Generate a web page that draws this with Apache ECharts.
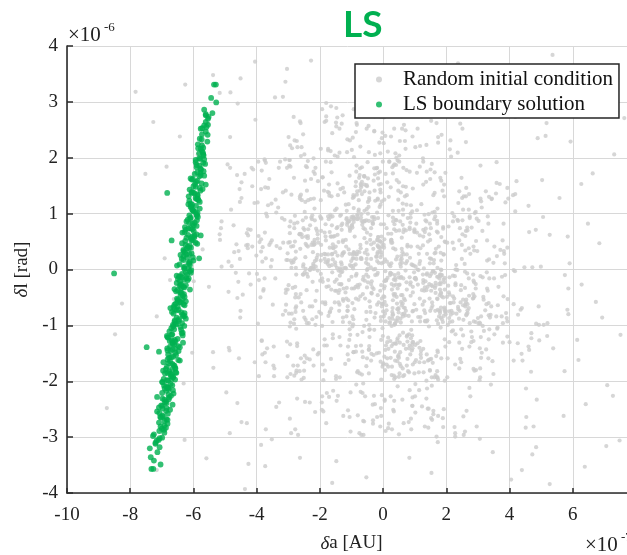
<!DOCTYPE html>
<html>
<head>
<meta charset="utf-8">
<script src="https://cdn.jsdelivr.net/npm/echarts@6/dist/echarts.min.js"></script>
<style>
html,body{margin:0;padding:0;background:#fff;}
#c{width:627px;height:555px;}
</style>
</head>
<body>
<div id="c"></div>
<script>
// Units: x in 0.01 x 10^-7 AU, y in 0.01 x 10^-6 rad (flat x,y pairs)
const grayXY = [
-17,43,138,-9,-271,84,53,-131,192,27,-349,-63,8,171,94,-41,-152,106,417,-3,
-74,-186,241,52,-108,-19,36,81,-203,-149,163,137,-1,-62,-428,38,293,-94,71,216,
147,-52,-39,4,-284,-172,62,118,-141,49,361,-106,-83,259,206,-29,-7,-92,-517,63,
3,39,-229,126,174,-197,-72,-48,296,91,-161,-5,49,-153,-373,147,116,61,628,-27,
-139,-74,51,193,-306,17,238,-71,-28,-108,84,72,-194,-238,383,28,-51,149,171,-182,
27,-26,-93,93,-461,-51,149,162,273,-138,-16,58,-207,26,63,-84,185,241,-62,-296,
-163,131,317,-49,-2,-174,-249,71,103,-16,-384,-127,151,74,39,208,-127,-53,506,94,
82,-141,-52,19,219,-93,-297,186,-138,-37,17,97,441,-163,-182,59,93,-229,-27,141,
-241,-8,171,82,-85,-206,29,48,-407,119,263,-82,-149,263,52,-118,329,16,-14,-59,
116,184,-193,-101,-31,37,184,-159,-263,64,41,-27,-551,-31,238,119,-82,-184,149,53,
-6,-262,352,41,-118,116,72,-74,-308,-42,197,173,-185,19,16,-122,438,-151,-59,86,
141,-31,-238,194,-94,-148,274,92,-19,15,-452,-86,102,-205,-171,152,59,37,-341,-16,
229,-116,-48,163,127,-19,-274,-181,193,131,-4,-61,-129,82,363,-64,-71,-219,-607,108,
71,249,-152,-38,306,-141,-41,53,-219,127,138,-93,19,193,-382,-152,181,-9,-97,-102,
-293,86,17,-142,152,19,-174,216,427,-81,-53,-173,92,104,-9,-38,-249,-86,248,164,
37,-97,-127,52,-329,-238,203,48,-73,141,262,-59,-197,-8,59,274,-13,-149,-471,31,
162,-193,-38,74,86,-27,-159,-116,308,186,-263,63,48,-71,-92,201,519,-119,-131,9,
-59,152,208,-41,-317,138,27,-189,-183,-59,74,116,393,-93,-26,-241,-197,92,137,-37,
251,63,-86,-137,-17,127,-393,-19,142,-163,-153,204,64,-16,-241,141,8,-93,174,237,
-116,-52,341,-206,-49,27,193,152,-282,-97,94,-31,-163,59,-538,-148,231,8,-19,182,
41,-133,-206,158,131,98,-63,-271,-352,52,216,-74,-8,138,-137,-193,286,41,-84,-8,
173,-148,-242,-37,51,204,-27,-86,396,127,-174,27,86,-152,-307,-63,127,71,-52,252,
-149,-191,262,131,-37,-42,-227,93,16,-174,152,-8,-416,182,82,-116,-93,31,338,-86,
-263,127,26,53,203,-193,-104,-117,-9,208,284,-52,-174,-19,63,149,-451,-74,141,-249,
93,8,-51,-159,-316,48,163,174,-138,-63,31,93,-249,206,241,-131,-19,-9,-641,-31,
197,-74,-171,137,52,-27,-293,-187,127,59,-16,163,352,-116,-86,-52,174,227,-38,-163,
-53,88,137,-231,-197,16,48,141,-374,-149,271,38,-127,-86,9,-19,-163,174,483,71,
127,152,-19,-63,-241,183,93,-141,-148,-38,308,127,-63,-204,-338,102,38,-16,-8,116,
-186,-136,249,19,-74,169,171,-52,-263,131,52,-186,-16,41,-419,-27,197,-138,86,84,
16,-284,-131,71,331,-38,-52,108,174,-97,-241,-159,74,178,-97,27,149,-74,-308,141,
14,-15,-192,165,235,89,-79,-32,-338,-246,126,43,38,-132,-279,50,128,-184,-419,71,
-169,39,93,-75,310,-158,-20,297,249,44,-159,-123,-7,81,164,-6,-228,162,508,-99,
286,-128,-3,48,-125,-34,121,117,6,-79,-382,14,280,286,-51,-32,182,30,-66,-147,
-9,38,244,-160,195,50,-458,-22,31,172,-153,-59,340,-81,-28,248,-211,17,145,-102,
184,-10,27,-101,-93,85,-221,10,155,-59,-364,146,22,-94,-189,-254,293,103,-81,96,
-44,128,181,-9,-275,-66,159,133,44,-61,-28,247,-356,48,123,-37,286,-178,-431,65,
227,-12,-101,90,91,-145,-64,85,-166,192,334,-60,-34,86,210,-45,-143,-226,64,182,
-13,39,336,-107,-126,2,49,-14,-212,73,172,-145,87,100,-466,-6,31,-55,-288,217,
148,-181,-252,9,20,-96,-128,29,325,140,-91,-71,253,-64,-36,278,-192,-59,503,160,
1,13,-30,-153,-205,48,182,-104,66,-52,-113,84,314,69,-251,-194,15,211,-160,-94,
-133,-5,72,70,136,157,-259,-59,-19,53,309,-121,-86,-11,173,281,293,-26,-411,179,
31,105,-211,-85,48,-7,-144,62,137,-199,-62,74,-295,-267,335,18,-85,175,127,-24,
-289,12,127,193,81,-83,-1,-119,349,12,-141,-59,26,53,-258,-197,193,-23,-84,262,
164,-33,-83,27,-295,-102,88,41,-197,216,493,-99,-37,-151,105,82,-309,-74,94,145,
-92,130,178,-16,-40,62,286,-20,-189,-198,62,80,334,-82,-253,242,11,-170,-167,98,
221,-48,-8,-165,113,28,23,6,-164,-70,-293,184,46,-209,-355,5,182,-23,-17,125,
-35,94,308,-12,-184,-181,11,74,250,128,-141,-2,-70,19,138,-152,-511,5,255,-296,
144,-162,-29,48,-295,49,130,-38,-19,-264,42,88,-310,197,156,-65,293,-34,-46,112,
84,75,-264,-182,133,-78,-67,183,116,-52,-371,20,19,9,-214,-56,-148,256,469,-123,
-146,3,148,-161,4,54,-232,-66,-48,121,133,-93,-60,-272,360,24,-291,41,27,-137,
24,-158,-170,6,260,-63,-15,58,181,-74,88,115,-320,92,-109,-162,82,292,-254,-9,
117,15,-36,-43,67,-189,-225,90,-136,0,411,133,5,-30,-254,88,120,-146,-65,-221,
-238,41,46,195,-119,-41,351,-16,-9,143,130,-57,-227,3,65,-275,-195,91,95,-130,
92,-118,161,17,-38,19,-232,-161,117,-93,-10,51,318,-54,-180,274,46,-123,-279,96,
-127,49,56,-173,251,88,-57,-52,72,148,-191,-22,-379,-38,18,130,211,-94,-691,20,
71,-82,-281,82,184,159,-4,-52,-135,-136,302,87,-47,-13,152,266,-224,97,75,-172,
-147,109,36,-99,-95,95,274,-96,-169,67,62,-177,-424,-7,166,30,35,-235,-247,159,
45,-71,-138,-121,378,52,-51,66,242,-74,-127,146,63,-191,-93,20,103,5,-599,-21,
-281,74,13,-159,166,-29,-4,235,-172,90,3,-34,329,52,-260,-159,156,-30,-73,181,
132,-32,-86,27,-294,-134,190,76,32,-133,-82,98,-180,-275,331,95,-25,-10,219,101,
-15,173,183,-41,87,93,-207,-2,115,-140,-489,14,-99,-34,188,141,-267,-50,92,-244,
-176,14,260,-66,-80,-182,26,48,100,-16,-384,177,41,18,-253,-74,123,-245,-44,124,
37,-10,-175,139,207,77,-44,-99,-120,-169,55,17,-202,-76,118,38,-360,162,61,-233,
113,-184,-58,30,0,-75,-220,44,93,238,-126,-56,302,-97,-60,167,-137,-11,232,0,
-70,93,228,-170,191,27,-44,-137,447,4,-172,-30,69,-69,-277,20,-93,110,114,-216,
192,-83,-68,19,-302,-155,115,10,-86,157,246,-37,72,11,-112,-152,38,-97,-284,42,
50,156,195,-36,-296,77,-7,-85,144,99,-69,-296,179,-46,-386,144,254,-90,-59,87,
-193,-16,36,188,-92,30,209,-87,-141,-42,13,156,323,-73,-9,50,148,-180,-216,88,
72,-142,-209,69,180,-78,-56,296,171,87,-53,-76,294,-180,-173,17,66,-79,-473,79,
190,73,-24,-78,-246,121,7,-3,-388,-50,138,175,-34,-32,176,41,-57,-227,235,-1,
-18,28,118,-128,-245,-90,45,23,-153,60,28,-174,371,35,-126,-262,49,-77,-257,124,
170,-193,-69,99,59,57,-249,-166,196,-76,-427,72,-40,-76,163,103,253,-54,-75,294,
57,-13,-282,17,-185,-125,16,64,127,-142,-374,66,39,-19,-232,0,-30,159,192,-18,
-117,41,35,-196,162,90,-43,-57,229,0,-33,-242,-195,26,305,-95,63,107,-238,-13,
23,-128,-162,79,43,-49,-207,63,-123,138,29,-88,-217,53,119,-152,-51,-1,590,11,
-157,38,34,-18,279,-130,-70,21,154,-208,-391,49,-93,-148,184,16,-275,-9,24,147,
61,-46,-106,168,-8,22,264,-80,1,-168,-147,74,111,-85,-337,42,34,-254,-242,43,
271,107,-53,-90,177,-74,-49,192,-106,-95,51,70,-427,61,183,-86,-6,-126,213,231,
-38,45,183,0,-207,-152,4,-49,333,82,-165,-160,29,-76,-6,273,171,-13,-220,7,
109,-132,-87,9,-112,-74,243,74,-70,147,23,-6,-396,-97,172,109,-231,-1,41,69,
28,-36,-281,-190,25,51,-151,8,165,-74,-63,277,221,-11,-25,123,389,-78,-144,25,
-105,69,53,-169,267,70,-78,-54,-149,-196,99,67,194,-68,-464,45,49,105,-298,-79,
69,131,-147,-18,-5,59,394,-53,109,41,-272,-132,12,14,-158,-217,65,-68,-207,55,
-100,-13,43,160,225,-52,-54,12,6,-180,-100,94,393,39,-36,-21,-296,196,194,-71,
56,5,-286,-33,126,199,-64,-18,-168,-75,42,200,214,-81,-2,-105,170,68,-457,33,
168,-155,-20,23,57,-58,-213,5,157,-3,-26,170,-375,-16,135,73,-20,-150,280,75,
-68,87,172,-193,-252,74,46,-34,-115,105,87,-23,-166,94,328,-5,25,238,-210,-38,
-106,28,5,-58,-6,-197,294,51,93,-130,-116,90,288,-23,-60,167,197,-74,-99,78,
-296,196,40,-91,173,66,-87,-31,327,-62,-135,144,6,18,-235,-96,-111,-252,57,24,
27,-8,-197,124,54,10,-252,-9,125,-63,-78,104,189,-94,-414,41,-44,-108,237,87,
-182,27,49,-69,-250,-181,76,15,107,173,-378,-35,-4,-225,132,67,-72,44,247,-107,
38,-163,-258,63,60,12,-115,-33,45,-127,-108,86,267,-78,-17,31,391,-87,-191,165,
181,-12,-76,164,-153,-22,63,98,-256,58,5,-235,376,-13,-150,41,75,133,-278,-50,
-3,42,133,-92,241,140,-64,-44,120,-158,-95,2,-571,36,148,-12,-27,90,253,-118,
61,-80,-133,98,-87,149,289,-48,148,20,-45,-186,183,-43,-265,63,-81,-117,172,3,
-109,117,98,-5,276,28,-62,-13,54,-148,-162,27,-5,26,104,-162,-281,-89,2,44,
97,7,-220,-172,104,-18,-93,91,-113,-74,84,175,240,-88,-7,153,186,-89,-17,52,
-112,-66,33,186,-22,23,153,-69,-231,79,31,-80,-106,-107,66,72,263,-54,-143,133,
89,-108,165,95,-293,-95,-82,90,56,138,-132,-26,61,31,-299,-28,129,2,-67,-188,
-106,75,20,-87,166,-189,-25,1,271,-16,-96,20,-170,132,22,-10,-43,-121,262,69,
54,86,-126,29,63,-113,-261,-44,-57,72,115,-166,-49,1,153,-28,260,60,-65,-112,
109,0,-82,140,-124,31,4,-21,259,-33,-159,39,92,-135,-98,80,157,-167,-223,48,
-84,186,177,-26,-277,-76,64,67,-109,36,94,-170,163,29,-17,-46,274,95,-64,-157,
-151,31,10,-64,-59,105,190,-50,-216,15,75,-36,-139,-26,4,125,71,-2,-159,18,
30,-82,-245,1,180,-36,-83,134,45,-92,-101,6,88,-123,-223,2,-183,-62,77,-160,
139,28,-86,-147,-130,25,285,-9,-29,94,4,-156,184,-1,-79,91,-245,46,84,-136,
-42,-107,160,11,1,-48,-186,28,77,-129,-276,3,-133,-27,90,9,-67,157,126,-9,
267,-73,-52,48,102,-135,99,72,-105,8,-95,-98,29,183,-241,-96,177,-84,-4,122,
-115,92,65,-135,-289,-79,32,38,146,-26,-43,138,-132,79,50,-28,-84,19,271,-69,
39,-193,-175,10,-58,-20,197,49,-244,59,23,-7,181,164,-6,-28,-162,8,99,-186,
-228,3,48,125,134,-21,-17,-6,79,-182,-114,80,286,-51,-32,82,130,-166,-47,9,
38,-44,-160,95,50,-158,-222,31,172,-53,-59,140,-81,-28,148,11,-217,45,2,-84,
110,-27,-1,193,85,21,-110,-55,59,-64,-246,22,-94,-89,154,-193,3,81,-196,44,
-28,181,209,-75,-166,59,33,-44,-161,28,47,-156,-48,-23,137,86,-278,-31,65,27,
112,-1,-90,91,45,-164,-185,66,-92,-34,260,34,186,-10,-45,-143,26,64,-182,13,
39,36,-107,-126,202,-49,-14,12,173,-72,-45,87,100,-166,-6,31,55,-88,-217,48,
-181,52,9,-20,-96,128,229,-25,140,-91,-71,153,-164,-36,78,92,159,-3,-60,-101,
13,-130,-253,5,148,82,-4,-66,-152,13,84,-14,-69,151,194,-15,211,-60,-94,133,
105,-72,-70,-136,-157,59,59,19,-53,-9,221,86,11,-73,-181,193,26,11,-179,-31,
-5,11,185,-48,7,-144,-262,37,99,-62,-174,95,-67,135,118,-85,75,27,-224,-89,
-182,81,82,-184,259,-4,-52,35,-136,2,87,-47,-13,152,166,-24,-97,75,272,-47,
9,-136,-199,95,95,-74,-196,69,267,-62,-77,124,107,66,-30,-35,35,-47,-159,45,
-71,38,221,-78,-52,151,166,-42,-74,-27,146,63,91,-93,-120,3,205,-99,-21,181,
174,-13,-59,166,-129,-4,35,72,-290,3,34,-29,152,-160,-59,56,130,-73,-81,32,
32,86,-127,-94,34,-190,-276,32,-33,82,198,-80,-75,31,195,-125,10,-19,-101,15,
-173,-83,41,187,-93,7,102,-15,40,89,-214,-99,134,88,-41,-67,50,-192,-144,76,
214,-60,-66,80,182,-26,-48,100,-116,-84,77,41,-118,53,74,-23,-45,-144,224,37,
-10,175,139,-7,77,44,-199,-20,69,-55,-117,2,76,-118,-238,60,62,-61,-133,13,
184,58,-30,0,75,-120,-244,93,-38,-26,156,102,-97,-60,167,37,-11,32,0,-170,
-93,28,170,-91,-227,44,37,-147,-104,72,30,-69,-169,-77,20,193,210,-14,-16,92,
183,-68,-19,102,55,-15,-110,86,57,-46,-237,72,-11,112,152,-38,-97,-84,142,50,
56,-95,-136,96,-77,107,285,-44,99,69,-196,-79,46,-86,-144,154,-90,59,287,-93,
312,-149,-219,1,483,281,-193,-227,-312,89,24,-227,-275,-185,418,135,-367,95,174,-262,
-299,237,462,-144,-7,-248,385,11,-105,231,279,-111,-326,193,81,-273,-511,86,221,-109,
-453,19,159,-259,357,136,-270,-172,5,-233,-394,60,211,215,-194,-251,469,-114,-284,13,
152,-266,-304,182,-248,-5,53,230,413,-1,-260,203,359,192,-178,-136,264,-253,-371,191,
-340,125,229,-28,-496,-220,109,252,381,-48,-17,288,255,131,-406,-166,300,-87,-145,272,
273,-212,-414,149,2,226,-307,-36,139,-213,-282,164,326,-143,-45,210,586,-34,-260,134,
492,-66,-185,264,-345,-191,290,101,-12,227,365,-31,-278,-286,137,223,-448,156,247,-28,
-161,244,333,-159,266,75,-9,-281,-428,44,296,-281,-303,-193,154,189,-294,222,346,-164,
359,155,-210,21,-485,-293,101,-227,310,-84,-2,245,217,-111,-448,128,-381,40,159,-253,
-272,-231,422,158,50,-295,-360,44,-138,209,247,-166,-330,182,32,-251,586,-80,-214,182,
-479,6,117,221,334,-125,-248,103,28,-286,-399,-8,262,228,-106,-264,-481,107,223,-59,
144,-249,-397,120,258,10,-75,-293,439,-69,-271,219,-384,-128,150,179,-232,-238,343,126,
-346,-138,232,-79,489,235,-165,292,315,-14,-93,287,209,-130,-492,188,336,-16,-193,287,
259,-290,-454,144,-86,246,379,-96,169,-299,-244,185,307,-177,-96,236,-595,56,250,-142,
484,-97,-138,252,312,111,-272,-137,-46,257,386,-10,-215,-255,102,219,468,-183,-292,16,
-114,210,393,-120,-277,-69,69,230,472,4,-247,-237,344,127,-191,-170,228,-293,-370,100,
-332,111,237,-67,-460,297,102,-256,-326,38,93,-244,-220,175,400,-130,358,-84,-113,233,
-261,262,460,-138,18,-276,-302,17,155,-269,-220,199,-344,-177,7,239,575,-10,-237,124,
-444,-45,123,274,-353,118,241,-177,84,-216,-300,48,226,-282,-180,266,460,114,-276,-44,
192,-250,-367,-141,288,34,-99,214,-489,-40,215,202,307,-193,-187,141,-283,273,315,-101,
319,-110,225,95,-431,-275,-180,298,382,33,-32,-276,-290,134,494,-127,-386,32,132,-281,
-273,230,-456,-159,60,252,329,-34,-103,-290,272,135,-304,-129,66,259,-513,74,281,-121,
499,5,-103,-220,-393,-191,263,146,-27,274,342,-66,251,252,-178,-221,-438,171,245,-59,
-147,-235,335,130,266,-7,-24,277,462,67,-269,-296,-374,195,195,-199,236,209,-347,-172,
-375,197,-224,-66,452,-213,147,287,-302,-36,35,252,204,-159,-484,182,381,82,-171,-228,
244,261,413,-163,-29,-226,-386,54,169,262,-221,-143,310,122,-32,-270,520,-96,-216,171,
-401,25,189,-266,387,120,-275,-106,88,-267,-302,29,228,-299,-131,261,426,-132,-238,56,
190,-282,-395,193,-295,65,8,-289,-433,43,254,-263,-372,-166,107,106,-280,231,379,-131,
369,153,-223,-22,486,-233,-166,212,-352,17,89,-286,253,107,-488,-140,375,-84,-174,213,
-291,-293,418,104,-72,220,307,-97,-144,202,289,-181,362,-104,-26,205,527,62,-248,-154,
413,-62,-128,276,305,-198,-217,109,3,272,-317,-81,-263,265,143,-283,-486,-145,220,48,
-148,289,349,-187,298,33,-80,-261,435,-72,-258,219,393,146,-111,-138,276,-227,-364,115,
-643,238,571,-262,-716,-84,627,153,-483,317,472,-331,-537,-176,684,47,-371,-286,418,273,
-592,127,538,-141,-426,-348,606,304,-674,-19,709,-207,-309,336,451,-283,-752,171,386,353,
-461,-239,648,82,-553,261,527,-384,-405,372,593,229,-628,-305,751,-117,-342,308,439,-359,
-516,53,673,-58,-685,184,562,341,-448,-273,618,-162,-574,226,484,-318,-826,-61,347,-327,
-604,-149,731,206,-373,-352,517,262,-538,348,641,-241,-462,169,583,-72,-386,-314,406,317,
-727,264,558,128,-631,-204,706,-316,-484,237,536,384,-559,-338,663,172,-304,359,453,-264,
-662,-53,614,-126,-517,316,476,-281,-437,-393,584,59,-586,206,727,-226,-263,-337,514,239,
-848,-116,542,314,-453,121,638,-353,-626,331,693,-86,-404,268,463,306,-352,-304,574,-182,
-783,318,-874,-248,748,-306,763,271,-716,-359,-228,374,153,-364,-84,351,237,369,-161,-382,
83,-337,-317,309,306,-303,-17,338,173,-309,-451,342,-148,-343,405,-376,-53,-372,274,316
];
const greenXY = [
-693,-287,-612,143,-597,61,-686,-209,-611,-36,-609,118,-674,-251,-652,7,-578,173,-660,-94,-556,229,-648,-162,
-609,93,-682,-121,-611,-3,-593,196,-709,-274,-614,38,-663,-67,-561,152,-669,-188,-561,264,-666,-143,-637,19,
-628,-49,-586,127,-715,-228,-609,74,-699,-301,-582,208,-642,-12,-657,-177,-593,48,-653,-86,-605,161,-687,-236,
-627,31,-641,-103,-561,247,-694,-196,-643,-58,-580,109,-703,-265,-616,2,-590,183,-633,-131,-635,66,-678,-214,
-680,-152,-589,88,-653,-24,-596,136,-687,-283,-638,-77,-585,217,-684,-119,-607,53,-665,-193,-624,-5,-566,168,
-641,-41,-582,199,-709,-247,-600,16,-636,-96,-613,123,-707,-318,-679,-168,-599,79,-653,-11,-555,241,-674,-138,
-622,57,-656,-184,-599,104,-673,-69,-677,-229,-581,186,-623,-15,-578,141,-698,-261,-661,-107,-602,22,-699,-201,
-628,-83,-625,71,-664,-156,-574,233,-644,-29,-666,-242,-592,114,-675,-128,-618,41,-725,-295,-591,157,-634,-53,
-644,9,-686,-217,-568,176,-632,-62,-684,-174,-613,97,-632,-31,-573,212,-686,-253,-637,-114,-587,132,-636,-8,
-660,-134,-588,46,-708,-289,-609,163,-659,-71,-658,-197,-596,84,-655,-39,-552,273,-672,-146,-616,12,-671,-226,
-607,113,-618,-19,-696,-181,-568,204,-654,-98,-632,35,-686,-268,-650,-124,-600,149,-624,-57,-691,-213,-603,82,
-674,-164,-641,26,-569,191,-702,-243,-624,-88,-593,128,-646,-13,-692,-279,-597,58,-673,-187,-573,222,-664,-102,
-634,-47,-581,167,-678,-232,-630,3,-683,-141,-590,98,-716,-306,-653,-73,-572,253,-680,-199,-625,44,-634,-118,
-606,137,-640,-27,-660,-172,-599,69,-708,-257,-578,181,-646,-92,-681,-211,-620,21,-660,-63,-602,106,-657,-149,
-608,-6,-676,-111,-577,216,-682,-276,-626,51,-677,-158,-580,146,-660,-35,-699,-221,-610,91,-635,-81,-554,259,
-671,-191,-580,121,-649,-54,-685,-239,-611,14,-596,171,-659,-126,-700,-285,-627,76,-629,-18,-695,-166,-566,197,
-665,-99,-608,39,-667,-207,-587,134,-650,-66,-698,-249,-622,86,-648,-137,-573,242,-643,-21,-677,-182,-590,63,
-697,-263,-595,153,-630,-44,-667,-116,-563,189,-698,-202,-623,27,-628,-78,-587,101,-720,-312,-655,-153,-628,5,
-663,-222,-603,72,-666,-131,-580,234,-620,-9,-667,-179,-616,117,-640,-59,-692,-271,-576,179,-639,-108,-631,33,
-682,-185,-571,144,-639,-33,-715,-254,-618,89,-668,-76,-569,206,-647,-146,-632,17,-692,-292,-668,-127,-587,159,
-628,-64,-669,-196,-609,112,-602,52,-692,-233,-636,-14,-577,169,-670,-105,-643,-163,-586,224,-637,-42,-589,96,
-682,-145,-613,28,-681,-258,-601,138,-659,-91,-693,-208,-617,62,-624,-28,-561,276,-667,-169,-584,124,-698,-244,
-628,1,-687,-178,-590,187,-634,-113,-650,-37,-590,78,-679,-224,-665,-133,-593,148,-652,-52,-707,-302,-612,43,
-646,-89,-570,209,-665,-216,-631,24,-670,-157,-615,131,-607,-1,-705,-264,-604,59,-680,-122,-588,174,-664,-192,
-647,-72,-593,103,-690,-238,-615,-16,-628,67,-658,-142,-579,198,-656,-97,-672,-205,-622,37,-656,-61,-604,116,
-658,-176,-639,-26,-614,83,-685,-248,-574,154,-669,-117,-613,11,-690,-186,-636,47,-632,-84,-698,-231,-590,126,
-650,-56,-593,192,-643,-139,-606,29,-684,-198,-604,107,-682,-269,-629,-32,-616,73,-682,-161,-569,218,-663,-79,
-680,-212,-608,56,-629,-101,-602,162,-649,-17,-663,-171,-586,94,-704,-281,-611,8,-657,-129,-605,139,-641,-45,
-529,331,-535,331,-544,307,-528,299,-561,278,-540,280,-577,252,-566,258,-554,270,-559,255,-566,286,
-738,-320,-735,-336,-733,-357,-727,-357,-704,-349,-714,-327,-725,-342,-720,-310,-710,-305,-728,-298,
-851,-7,-748,-139,-683,137,-669,52,-709,-147,-582,20,-577,61,-654,-185
];
const xAxisRange = {min: -10, max: 8, step: 2};
const yAxisRange = {min: -4, max: 4, step: 1};
const legendNames = ['Random initial condition', 'LS boundary solution'];

function pairs(flat){ const out=[]; for(let i=0;i+1<flat.length;i+=2){ out.push([flat[i]/100, flat[i+1]/100]); } return out; }

const chart = echarts.init(document.getElementById('c'), null, {renderer:'canvas'});
const serif = 'Liberation Serif';
const axisCol = '#2b2b2b';
chart.setOption({
  animation: false,
  backgroundColor: '#ffffff',
  title: {
    text: 'LS', left: 338, top: 2,
    textStyle: {color:'#00b050', fontSize: 37, fontWeight: 'bold', fontFamily: 'Lato'}
  },
  grid: {left: 67, top: 46, width: 569, height: 447, containLabel: false, outerBoundsMode: 'none'},
  legend: {
    orient: 'vertical', left: 355, top: 64,
    data: [{name: legendNames[0], icon: 'circle'}, {name: legendNames[1], icon: 'circle'}],
    itemWidth: 38, itemHeight: 6, itemGap: 4,
    padding: [5, 6, 3, 21],
    borderColor: '#262626', borderWidth: 1.5, backgroundColor: '#ffffff',
    textStyle: {fontFamily: serif, fontSize: 21, color: '#111', lineHeight: 21},
    selectedMode: false, z: 10
  },
  xAxis: {
    type: 'value', min: xAxisRange.min, max: xAxisRange.max, interval: xAxisRange.step,
    name: '{i|δ}a [AU]', nameLocation: 'middle', nameGap: 41,
    nameTextStyle: {fontFamily: serif, fontSize: 19, color: '#222',
      rich: {i: {fontFamily: serif, fontSize: 19, fontStyle: 'italic', color: '#222'}}},
    axisLine: {show: true, onZero: false, lineStyle: {color: axisCol, width: 1.6}},
    axisTick: {show: true, inside: true, length: 5, lineStyle: {color: axisCol, width: 1.5}},
    axisLabel: {fontFamily: serif, fontSize: 19, color: '#222', margin: 13},
    splitLine: {show: true, lineStyle: {color: '#d8d8d8', width: 1}}
  },
  yAxis: {
    type: 'value', min: yAxisRange.min, max: yAxisRange.max, interval: yAxisRange.step,
    name: '{i|δ}l [rad]', nameLocation: 'middle', nameGap: 22,
    nameTextStyle: {fontFamily: serif, fontSize: 19, color: '#222',
      rich: {i: {fontFamily: serif, fontSize: 19, fontStyle: 'italic', color: '#222'}}},
    axisLine: {show: true, onZero: false, lineStyle: {color: axisCol, width: 1.6}},
    axisTick: {show: true, inside: true, length: 6, lineStyle: {color: axisCol, width: 1.5}},
    axisLabel: {fontFamily: serif, fontSize: 19, color: '#222', margin: 9},
    splitLine: {show: true, lineStyle: {color: '#d8d8d8', width: 1}}
  },
  graphic: [
    {type: 'text', left: 68, top: 25, style: {text: '×10', fontFamily: serif, fontSize: 21, fill: '#222'}},
    {type: 'text', left: 104, top: 21, style: {text: '-6', fontFamily: serif, fontSize: 13, fill: '#222'}},
    {type: 'text', left: 585, top: 535, style: {text: '×10', fontFamily: serif, fontSize: 21, fill: '#222'}},
    {type: 'text', left: 621, top: 531, style: {text: '-7', fontFamily: serif, fontSize: 13, fill: '#222'}}
  ],
  series: [
    {name: legendNames[0], type: 'scatter', data: pairs(grayXY), symbolSize: 4.2,
     itemStyle: {color: '#cccccc'}, silent: true, z: 2},
    {name: legendNames[1], type: 'scatter', data: pairs(greenXY), symbolSize: 5.8,
     itemStyle: {color: '#00b050'}, silent: true, z: 3}
  ]
});
</script>
</body>
</html>
